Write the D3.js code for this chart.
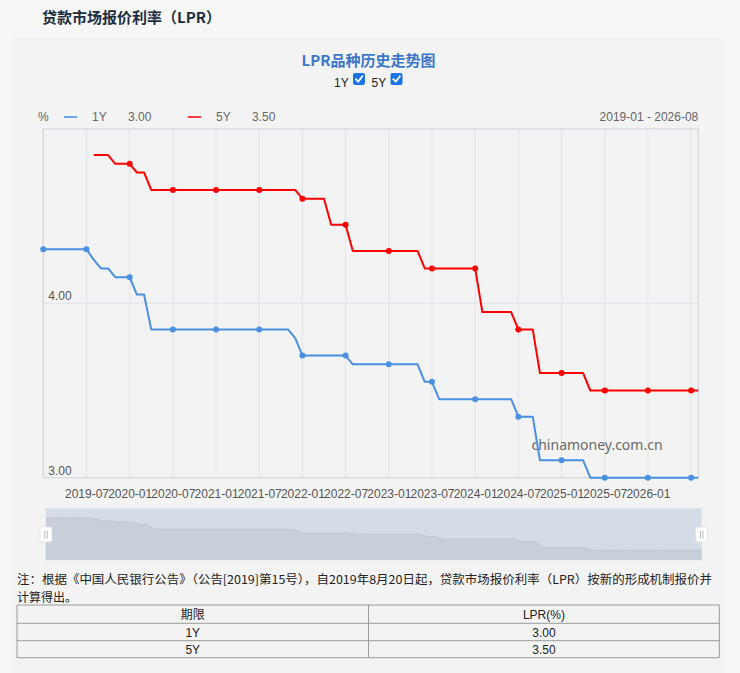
<!DOCTYPE html>
<html>
<head>
<meta charset="utf-8">
<script src="https://cdn.jsdelivr.net/npm/d3@7"></script>
<style>
  html, body { margin: 0; padding: 0; background: #f6f6f6; }
  svg { display: block; }
  .cn { font-family: "Noto Sans CJK SC", "Noto Sans", sans-serif; }
  .lat { font-family: "Liberation Sans", Arial, sans-serif; }
</style>
</head>
<body>
<svg id="lpr" width="740" height="673"></svg>
<script>
// monthly categories, 2019-01 .. 2026-08
const months = [
  '2019-01','2019-02','2019-03','2019-04','2019-05','2019-06','2019-07','2019-08','2019-09','2019-10','2019-11','2019-12',
  '2020-01','2020-02','2020-03','2020-04','2020-05','2020-06','2020-07','2020-08','2020-09','2020-10','2020-11','2020-12',
  '2021-01','2021-02','2021-03','2021-04','2021-05','2021-06','2021-07','2021-08','2021-09','2021-10','2021-11','2021-12',
  '2022-01','2022-02','2022-03','2022-04','2022-05','2022-06','2022-07','2022-08','2022-09','2022-10','2022-11','2022-12',
  '2023-01','2023-02','2023-03','2023-04','2023-05','2023-06','2023-07','2023-08','2023-09','2023-10','2023-11','2023-12',
  '2024-01','2024-02','2024-03','2024-04','2024-05','2024-06','2024-07','2024-08','2024-09','2024-10','2024-11','2024-12',
  '2025-01','2025-02','2025-03','2025-04','2025-05','2025-06','2025-07','2025-08','2025-09','2025-10','2025-11','2025-12',
  '2026-01','2026-02','2026-03','2026-04','2026-05','2026-06','2026-07','2026-08'
];

const rate1Y = [
  4.31, 4.31, 4.31, 4.31, 4.31, 4.31, 4.31, 4.25, 4.20, 4.20, 4.15, 4.15,
  4.15, 4.05, 4.05, 3.85, 3.85, 3.85, 3.85, 3.85, 3.85, 3.85, 3.85, 3.85,
  3.85, 3.85, 3.85, 3.85, 3.85, 3.85, 3.85, 3.85, 3.85, 3.85, 3.85, 3.80,
  3.70, 3.70, 3.70, 3.70, 3.70, 3.70, 3.70, 3.65, 3.65, 3.65, 3.65, 3.65,
  3.65, 3.65, 3.65, 3.65, 3.65, 3.55, 3.55, 3.45, 3.45, 3.45, 3.45, 3.45,
  3.45, 3.45, 3.45, 3.45, 3.45, 3.45, 3.35, 3.35, 3.35, 3.10, 3.10, 3.10,
  3.10, 3.10, 3.10, 3.10, 3.00, 3.00, 3.00, 3.00, 3.00, 3.00, 3.00, 3.00,
  3.00, 3.00, 3.00, 3.00, 3.00, 3.00, 3.00, 3.00
];

const rate5Y = [
  null, null, null, null, null, null, null, 4.85, 4.85, 4.85, 4.80, 4.80,
  4.80, 4.75, 4.75, 4.65, 4.65, 4.65, 4.65, 4.65, 4.65, 4.65, 4.65, 4.65,
  4.65, 4.65, 4.65, 4.65, 4.65, 4.65, 4.65, 4.65, 4.65, 4.65, 4.65, 4.65,
  4.60, 4.60, 4.60, 4.60, 4.45, 4.45, 4.45, 4.30, 4.30, 4.30, 4.30, 4.30,
  4.30, 4.30, 4.30, 4.30, 4.30, 4.20, 4.20, 4.20, 4.20, 4.20, 4.20, 4.20,
  4.20, 3.95, 3.95, 3.95, 3.95, 3.95, 3.85, 3.85, 3.85, 3.60, 3.60, 3.60,
  3.60, 3.60, 3.60, 3.60, 3.50, 3.50, 3.50, 3.50, 3.50, 3.50, 3.50, 3.50,
  3.50, 3.50, 3.50, 3.50, 3.50, 3.50, 3.50, 3.50
];

// months that get a grid line and a symbol
const markMonths = ['2019-01','2019-07','2020-01','2020-07','2021-01','2021-07','2022-01','2022-07',
  '2023-01','2023-07','2024-01','2024-07','2025-01','2025-07','2026-01','2026-07'];
const xTickLabels = ['2019-07','2020-01','2020-07','2021-01','2021-07','2022-01','2022-07',
  '2023-01','2023-07','2024-01','2024-07','2025-01','2025-07','2026-01'];
const yTicks = [3, 4];
const yGrid = [4];

const seriesNames = ['1Y', '5Y'];
const seriesColors = ['#4a90e2', '#ff0000'];
const tableHead = ['期限', 'LPR(%)'];

const svg = d3.select('#lpr');

svg.append('rect').attr('width', 740).attr('height', 673).attr('fill', '#f6f6f6');
svg.append('rect').attr('x', 13).attr('y', 37).attr('width', 709).attr('height', 636).attr('fill', '#f3f3f3');

svg.append('text')
  .attr('class', 'cn')
  .attr('x', 42).attr('y', 23)
  .attr('font-size', 15).attr('font-weight', 'bold')
  .attr('fill', '#1e2e3f')
  .text('贷款市场报价利率（LPR）');

svg.append('text')
  .attr('class', 'cn')
  .attr('x', 368.5).attr('y', 66)
  .attr('text-anchor', 'middle')
  .attr('font-size', 15).attr('font-weight', 'bold')
  .attr('fill', '#3a78c9')
  .text('LPR品种历史走势图');

// series toggles
const toggles = svg.append('g');
const toggleX = [334, 371.5];
seriesNames.forEach((name, i) => {
  const g = toggles.append('g').attr('transform', `translate(${toggleX[i]}, 0)`);
  g.append('text').attr('class', 'lat').attr('x', 0).attr('y', 87)
    .attr('font-size', 12).attr('fill', '#222').text(name);
  g.append('rect').attr('x', 19).attr('y', 73).attr('width', 12).attr('height', 12)
    .attr('rx', 2).attr('fill', '#1b74e4');
  g.append('path').attr('d', 'M21.8,79.2 L24.2,81.6 L28.4,76.2')
    .attr('fill', 'none').attr('stroke', '#fff').attr('stroke-width', 1.8)
    .attr('stroke-linecap', 'round').attr('stroke-linejoin', 'round');
});

// plot scales
const plotLeft = 43.3, plotRight = 698.3, plotTop = 128.9, plotBottom = 477.7;

const xscale = d3.scalePoint()
  .domain(months)
  .range([plotLeft, plotRight]);

const yscale = d3.scaleLinear()
  .domain([3, 5])
  .range([plotBottom, plotTop]);

// legend row
const legend = svg.append('g').attr('class', 'lat').attr('font-size', 12).attr('fill', '#666');
legend.append('text').attr('x', 38).attr('y', 121).text('%');
const latest = [rate1Y[rate1Y.length - 1], rate5Y[rate5Y.length - 1]];
const legendX = [64, 188];
seriesNames.forEach((name, i) => {
  const lx = legendX[i];
  legend.append('line').attr('x1', lx).attr('x2', lx + 13).attr('y1', 117).attr('y2', 117)
    .attr('stroke', i === 0 ? '#6aa8ee' : '#ff3b3b').attr('stroke-width', 2);
  legend.append('text').attr('x', lx + 28).attr('y', 121).text(name);
  legend.append('text').attr('x', lx + 64).attr('y', 121).text(latest[i].toFixed(2));
});
legend.append('text').attr('x', plotRight).attr('y', 121).attr('text-anchor', 'end')
  .text(`${months[0]} - ${months[months.length - 1]}`);

// grid
const grid = svg.append('g');
grid.selectAll('line.v')
  .data(markMonths)
  .enter()
  .append('line')
  .attr('x1', (d) => xscale(d)).attr('x2', (d) => xscale(d))
  .attr('y1', plotTop).attr('y2', plotBottom)
  .attr('stroke', '#e1e3e9').attr('stroke-width', 1);
grid.selectAll('line.h')
  .data(yGrid)
  .enter()
  .append('line')
  .attr('x1', plotLeft).attr('x2', plotRight)
  .attr('y1', (d) => yscale(d)).attr('y2', (d) => yscale(d))
  .attr('stroke', '#e1e3e9').attr('stroke-width', 1);
grid.append('rect')
  .attr('x', plotLeft).attr('y', plotTop)
  .attr('width', plotRight - plotLeft).attr('height', plotBottom - plotTop)
  .attr('fill', 'none').attr('stroke', '#d5d8df').attr('stroke-width', 1.2);

// axes
const leftAxis = d3.axisRight(yscale)
  .tickValues(yTicks)
  .tickFormat(d3.format('.2f'))
  .tickSize(0);
svg.append('g')
  .attr('transform', `translate(${plotLeft}, 0)`)
  .call(leftAxis)
  .call((g) => g.select('.domain').remove())
  .call((g) => g.selectAll('text')
    .attr('x', 5).attr('dy', '-0.3em')
    .attr('fill', '#555').attr('font-size', 12)
    .attr('font-family', '"Liberation Sans", Arial, sans-serif'));

const bottomAxis = d3.axisBottom(xscale)
  .tickValues(xTickLabels)
  .tickSize(0);
svg.append('g')
  .attr('transform', `translate(0, ${plotBottom})`)
  .call(bottomAxis)
  .call((g) => g.select('.domain').remove())
  .call((g) => g.selectAll('text')
    .attr('y', 11.5)
    .attr('fill', '#555').attr('font-size', 12)
    .attr('font-family', '"Liberation Sans", Arial, sans-serif'));

// watermark
svg.append('text')
  .attr('x', 531.5).attr('y', 450)
  .attr('font-family', '"Noto Sans", "Open Sans", sans-serif')
  .attr('font-size', 14).attr('fill', '#6a6a6a')
  .text('chinamoney.com.cn');

// lines and symbols
const allSeries = [rate1Y, rate5Y];
const line = d3.line()
  .defined((d) => d != null)
  .x((d, i) => xscale(months[i]))
  .y((d) => yscale(d));

allSeries.forEach((values, s) => {
  svg.append('path')
    .datum(values)
    .attr('fill', 'none')
    .attr('stroke', seriesColors[s])
    .attr('stroke-width', 2)
    .attr('stroke-linejoin', 'round')
    .attr('d', line);

  const dots = markMonths
    .map((m) => ({ m, v: values[months.indexOf(m)] }))
    .filter((d) => d.v != null);
  svg.append('g')
    .selectAll('circle')
    .data(dots)
    .enter()
    .append('circle')
    .attr('cx', (d) => xscale(d.m))
    .attr('cy', (d) => yscale(d.v))
    .attr('r', 3)
    .attr('fill', seriesColors[s]);
});

// slider with 1Y shadow
const zoomLeft = 46, zoomRight = 701.7, zoomTop = 508.3, zoomBottom = 560;
const zx = d3.scalePoint().domain(months).range([zoomLeft, zoomRight]);
const ext = d3.extent(rate1Y);
const pad = (ext[1] - ext[0]) * 0.3;
const zy = d3.scaleLinear().domain([ext[0] - pad, ext[1] + pad]).range([zoomBottom, zoomTop]);

svg.append('rect')
  .attr('x', zoomLeft).attr('y', zoomTop)
  .attr('width', zoomRight - zoomLeft).attr('height', zoomBottom - zoomTop)
  .attr('fill', '#d5dce6').attr('stroke', '#e4e6ea').attr('stroke-width', 1);

const area = d3.area()
  .x((d, i) => zx(months[i]))
  .y0(zoomBottom)
  .y1((d) => zy(d));
svg.append('path').datum(rate1Y).attr('d', area).attr('fill', '#c8cfd9');
svg.append('path').datum(rate1Y)
  .attr('d', d3.line().x((d, i) => zx(months[i])).y((d) => zy(d)))
  .attr('fill', 'none').attr('stroke', '#bcc4cf').attr('stroke-width', 0.8);

[zoomLeft, zoomRight].forEach((hx) => {
  const h = svg.append('g').attr('transform', `translate(${hx}, 534.5)`);
  h.append('rect').attr('x', -6).attr('y', -7.5).attr('width', 12).attr('height', 15)
    .attr('rx', 2).attr('fill', '#fff').attr('stroke', '#dcdcdc').attr('stroke-width', 0.6);
  h.append('line').attr('x1', -1.2).attr('x2', -1.2).attr('y1', -4).attr('y2', 4).attr('stroke', '#aaa').attr('stroke-width', 0.8);
  h.append('line').attr('x1', 1.2).attr('x2', 1.2).attr('y1', -4).attr('y2', 4).attr('stroke', '#aaa').attr('stroke-width', 0.8);
});

// note
const note = svg.append('g').attr('class', 'cn').attr('font-size', 12).attr('fill', '#222');
note.append('text').attr('x', 17).attr('y', 583.5)
  .attr('textLength', 695).attr('lengthAdjust', 'spacingAndGlyphs')
  .text('注：根据《中国人民银行公告》（公告[2019]第15号），自2019年8月20日起，贷款市场报价利率（LPR）按新的形成机制报价并');
note.append('text').attr('x', 17).attr('y', 601.5).text('计算得出。');

// table
const tableLeft = 17, tableRight = 719.3, tableMid = 368.5;
const rowY = [605, 623.3, 640.7, 657.7];
const tableRows = [tableHead].concat(seriesNames.map((n, i) => [n, latest[i].toFixed(2)]));
const table = svg.append('g');
table.selectAll('line.row')
  .data(rowY)
  .enter()
  .append('line')
  .attr('x1', tableLeft).attr('x2', tableRight)
  .attr('y1', (d) => d).attr('y2', (d) => d)
  .attr('stroke', '#9a9a9a').attr('stroke-width', 1);
[tableLeft, tableMid, tableRight].forEach((cx) => {
  table.append('line').attr('x1', cx).attr('x2', cx).attr('y1', rowY[0]).attr('y2', rowY[3])
    .attr('stroke', '#9a9a9a').attr('stroke-width', 1);
});
tableRows.forEach((row, r) => {
  const cy = (rowY[r] + rowY[r + 1]) / 2 + 4.5;
  row.forEach((cell, c) => {
    table.append('text')
      .attr('class', r === 0 && c === 0 ? 'cn' : 'lat')
      .attr('x', c === 0 ? (tableLeft + tableMid) / 2 : (tableMid + tableRight) / 2)
      .attr('y', cy)
      .attr('text-anchor', 'middle')
      .attr('font-size', 12).attr('fill', '#222')
      .text(cell);
  });
});
</script>
</body>
</html>
